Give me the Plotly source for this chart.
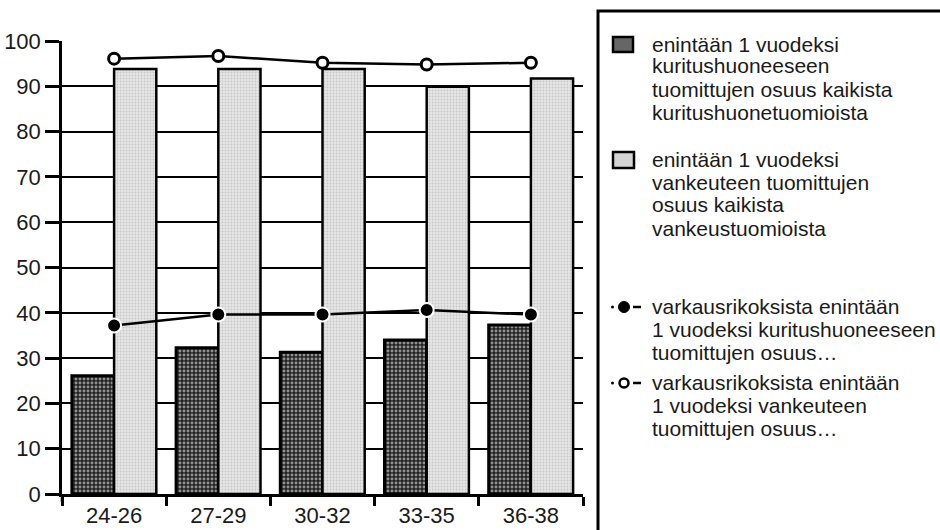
import plotly.graph_objects as go

# Age groups (years) on the x axis
age_groups = ["24-26", "27-29", "30-32", "33-35", "36-38"]

# Share (%) of sentences of at most one year
kuritushuone_share = [26.1, 32.3, 31.3, 34.0, 37.3]
vankeus_share = [93.8, 93.8, 93.8, 89.9, 91.7]

# Share (%) among theft offences
varkaus_kuritushuone = [37.2, 39.6, 39.6, 40.6, 39.6]
varkaus_vankeus = [96.1, 96.7, 95.2, 94.8, 95.2]

y_ticks = [0, 10, 20, 30, 40, 50, 60, 70, 80, 90, 100]

legend_lines = [
    ["enintään 1 vuodeksi", "kuritushuoneeseen", "tuomittujen osuus kaikista", "kuritushuonetuomioista"],
    ["enintään 1 vuodeksi", "vankeuteen tuomittujen", "osuus kaikista", "vankeustuomioista"],
    ["varkausrikoksista enintään", "1 vuodeksi kuritushuoneeseen", "tuomittujen osuus…"],
    ["varkausrikoksista enintään", "1 vuodeksi vankeuteen", "tuomittujen osuus…"],
]

FONT = "Arial, Liberation Sans, Helvetica, sans-serif"
INK = "#1a1a1a"

# plot area in pixels
L, R, T, B = 62, 583, 41, 494
W, H = 940, 530


def px(x):
    return (x - L) / (R - L)


def py(y):
    return (B - y) / (B - T)


fig = go.Figure()

fig.add_trace(go.Bar(
    x=age_groups, y=kuritushuone_share, name=" ".join(legend_lines[0]),
    marker=dict(color="#222222", line=dict(color="black", width=3),
                pattern=dict(shape=".", fgcolor="white", bgcolor="#222222",
                             size=4, solidity=0.42)),
    showlegend=False,
))
fig.add_trace(go.Bar(
    x=age_groups, y=vankeus_share, name=" ".join(legend_lines[1]),
    marker=dict(color="#e4e4e4", line=dict(color="black", width=2.5),
                pattern=dict(shape=".", fgcolor="#a8a8a8", bgcolor="#e6e6e6",
                             size=3, solidity=0.3)),
    showlegend=False,
))
fig.add_trace(go.Scatter(
    x=age_groups, y=varkaus_kuritushuone, name=" ".join(legend_lines[2]),
    mode="lines+markers",
    line=dict(color="black", width=2.5),
    marker=dict(symbol="circle", size=14, color="black",
                line=dict(color="white", width=2)),
    showlegend=False,
))
fig.add_trace(go.Scatter(
    x=age_groups, y=varkaus_vankeus, name=" ".join(legend_lines[3]),
    mode="lines+markers",
    line=dict(color="black", width=2.5),
    marker=dict(symbol="circle", size=11, color="white",
                line=dict(color="black", width=3)),
    showlegend=False,
))

shapes = []
annotations = []

# y axis stub below zero
shapes.append(dict(type="line", xref="paper", yref="paper",
                   x0=0, x1=0, y0=py(B), y1=py(B + 8),
                   line=dict(color="black", width=2.5)))

# legend frame
shapes.append(dict(type="rect", xref="paper", yref="paper",
                   x0=px(598), x1=px(960), y0=py(560), y1=py(11),
                   line=dict(color="black", width=3), fillcolor="rgba(0,0,0,0)"))

# legend swatches for the bars
shapes.append(dict(type="rect", xref="paper", yref="paper",
                   x0=px(613), x1=px(633), y0=py(52), y1=py(37),
                   line=dict(color="black", width=2.5), fillcolor="#666666"))
shapes.append(dict(type="rect", xref="paper", yref="paper",
                   x0=px(613), x1=px(634), y0=py(168), y1=py(152),
                   line=dict(color="black", width=2.5), fillcolor="#d4d4d4"))

# legend symbols for the lines
for yc, filled in [(307, True), (383, False)]:
    shapes.append(dict(type="circle", xref="paper", yref="paper",
                       x0=px(611), x1=px(614), y0=py(yc + 1.5), y1=py(yc - 1.5),
                       line=dict(width=0), fillcolor="black"))
    r = 5.5 if filled else 4.5
    shapes.append(dict(type="circle", xref="paper", yref="paper",
                       x0=px(624 - r), x1=px(624 + r), y0=py(yc + r), y1=py(yc - r),
                       line=dict(color="black", width=1 if filled else 2.5),
                       fillcolor="black" if filled else "white"))
    shapes.append(dict(type="line", xref="paper", yref="paper",
                       x0=px(633), x1=px(641), y0=py(yc), y1=py(yc),
                       line=dict(color="black", width=2.5)))

line_centers = [[44, 66, 89, 112], [159, 182, 205, 228], [306, 329, 352], [382, 405, 428]]
for lines, centers in zip(legend_lines, line_centers):
    for text, yc in zip(lines, centers):
        annotations.append(dict(xref="paper", yref="paper", x=px(650), y=py(yc),
                                xanchor="left", yanchor="middle", showarrow=False,
                                text=text, font=dict(family=FONT, size=21, color=INK)))

fig.update_layout(
    width=W, height=H,
    margin=dict(l=L, r=W - R, t=T, b=H - B, autoexpand=False),
    paper_bgcolor="white", plot_bgcolor="white",
    barmode="group", bargap=0.19, bargroupgap=0,
    font=dict(family=FONT, size=22, color=INK),
    shapes=shapes, annotations=annotations,
    xaxis=dict(type="category", tickson="boundaries", ticks="outside",
               ticklen=9, tickwidth=2.5, tickcolor="black",
               showline=True, linecolor="black", linewidth=2.5,
               showgrid=False, ticklabelstandoff=0, automargin=False,
               tickfont=dict(size=22, color=INK)),
    yaxis=dict(range=[0, 100], tickvals=y_ticks, ticks="outside",
               ticklen=14, tickwidth=2.5, tickcolor="black",
               showline=True, linecolor="black", linewidth=2.5,
               showgrid=True, gridcolor="black", gridwidth=2,
               zeroline=False, automargin=False,
               tickfont=dict(size=22, color=INK)),
)

fig.write_html("out.html")
